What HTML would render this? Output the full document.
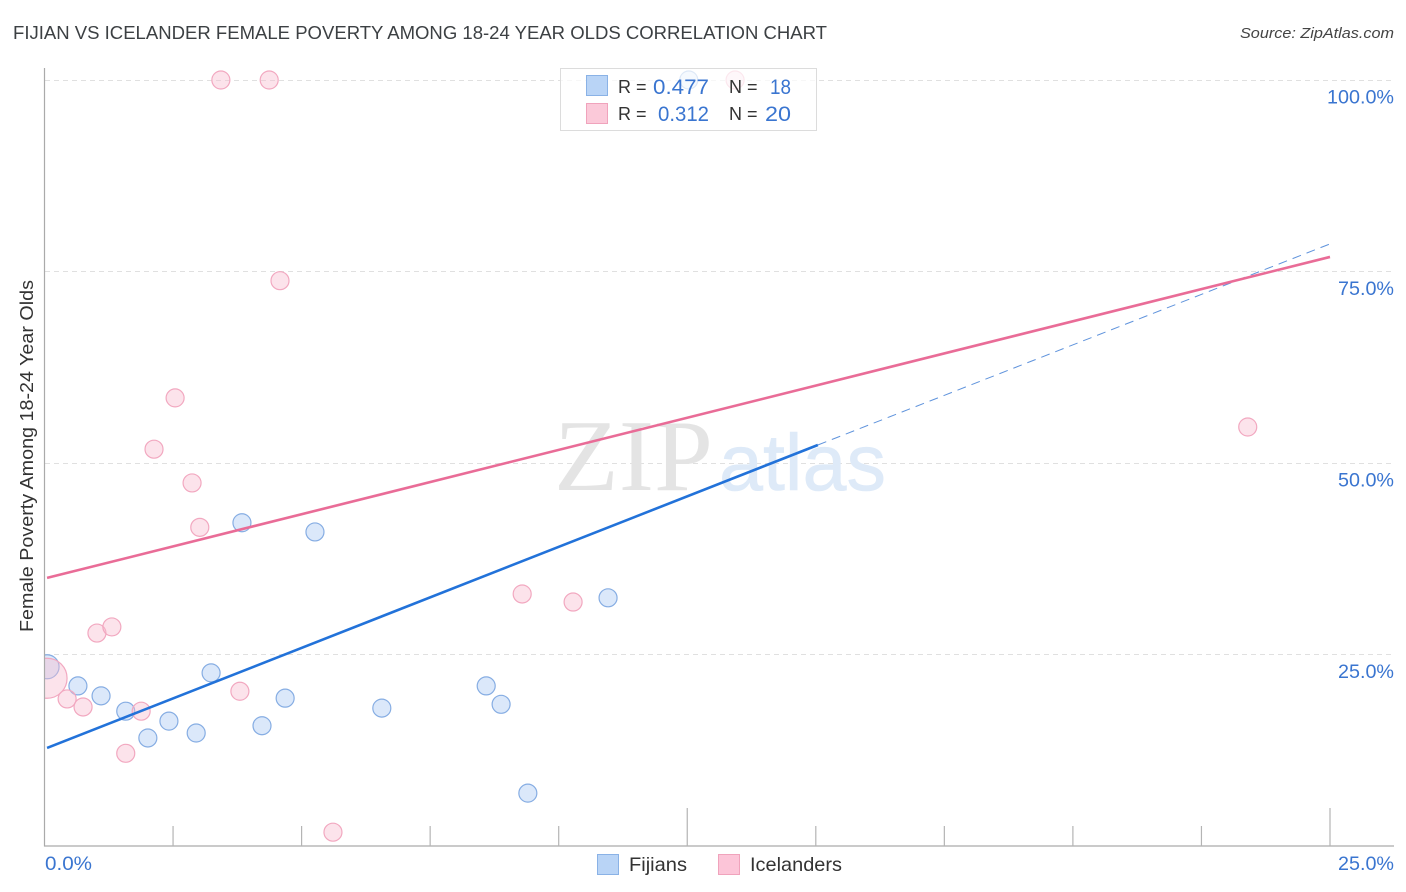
<!DOCTYPE html>
<html lang="en">
<head>
<meta charset="utf-8">
<title>Fijian vs Icelander Female Poverty Correlation Chart</title>
<style>
html,body{margin:0;padding:0;background:#fff;width:1406px;height:892px;overflow:hidden}
svg{display:block}
text{font-family:"Liberation Sans",sans-serif}
</style>
</head>
<body>
<svg id="chart" xmlns="http://www.w3.org/2000/svg" width="1406" height="892" viewBox="0 0 1406 892">
  <defs><clipPath id="plot-clip"><rect x="44.5" y="60" width="1350" height="786"/></clipPath></defs>
  <text x="13" y="39" font-size="18.5" fill="#3c4043" textLength="814" lengthAdjust="spacingAndGlyphs">FIJIAN VS ICELANDER FEMALE POVERTY AMONG 18-24 YEAR OLDS CORRELATION CHART</text>
  <text x="1394" y="38" font-size="15" font-style="italic" fill="#444" text-anchor="end" textLength="154" lengthAdjust="spacingAndGlyphs">Source: ZipAtlas.com</text>
  <g id="grid"></g>
  <g>
    <text x="554" y="490" font-size="102" fill="#e4e4e4" textLength="159" lengthAdjust="spacingAndGlyphs" style="font-family:'Liberation Serif',serif">ZIP</text>
    <text x="719" y="490" font-size="80" fill="#deeaf8" stroke="#deeaf8" stroke-width="0.6" textLength="167" lengthAdjust="spacingAndGlyphs">atlas</text>
  </g>
  <g id="points" clip-path="url(#plot-clip)"></g>
  <g id="trends"></g>
  <g id="axes"></g>
  <text transform="translate(33,632) rotate(-90)" font-size="18" fill="#333" textLength="352" lengthAdjust="spacingAndGlyphs">Female Poverty Among 18-24 Year Olds</text>

  <g>
    <rect x="560.5" y="68.5" width="256" height="62" fill="#fff" fill-opacity="0.72" stroke="#dcdcdc"/>
    <rect x="586.5" y="75.5" width="21" height="20" fill="#b9d4f6" stroke="#8ab2e6"/>
    <rect x="586.5" y="103.5" width="21" height="20" fill="#fbc9d9" stroke="#f0a3bc"/>
    <text x="618" y="93" font-size="18" fill="#333">R =</text>
    <text x="709" y="94" font-size="21" fill="#3a75d0" text-anchor="end" textLength="56" lengthAdjust="spacingAndGlyphs">0.477</text>
    <text x="729" y="93" font-size="18" fill="#333">N =</text>
    <text x="791" y="94" font-size="21" fill="#3a75d0" text-anchor="end" textLength="21" lengthAdjust="spacingAndGlyphs">18</text>
    <text x="618" y="120" font-size="18" fill="#333">R =</text>
    <text x="709" y="121" font-size="21" fill="#3a75d0" text-anchor="end" textLength="51" lengthAdjust="spacingAndGlyphs">0.312</text>
    <text x="729" y="120" font-size="18" fill="#333">N =</text>
    <text x="791" y="121" font-size="21" fill="#3a75d0" text-anchor="end" textLength="26" lengthAdjust="spacingAndGlyphs">20</text>
  </g>

  <g>
    <rect x="597.5" y="854.5" width="21" height="20" fill="#b9d4f6" stroke="#8ab2e6"/>
    <text x="629" y="871" font-size="19.5" fill="#333" textLength="58" lengthAdjust="spacingAndGlyphs">Fijians</text>
    <rect x="718.5" y="854.5" width="21" height="20" fill="#fcc5d8" stroke="#f0a3bc"/>
    <text x="750" y="871" font-size="19.5" fill="#333" textLength="92" lengthAdjust="spacingAndGlyphs">Icelanders</text>
  </g>
</svg>
<script>
const yTicks = [25, 50, 75, 100];
const yTickLabels = ['25.0%', '50.0%', '75.0%', '100.0%'];
const xTicks = [0, 2.5, 5, 7.5, 10, 12.5, 15, 17.5, 20, 22.5, 25];
const xEndLabels = ['0.0%', '25.0%'];
const fijianX = [0.05,0.65,1.10,1.58,2.01,2.42,2.95,3.24,3.84,4.23,4.68,5.26,6.56,8.59,8.88,9.40,10.96,12.53];
const fijianY = [23.4,20.9,19.6,17.6,14.1,16.3,14.75,22.6,42.2,15.7,19.3,41.0,18.0,20.9,18.5,6.9,32.4,100];
const fijianSize = [12,9,9,9,9,9,9,9,9,9,9,9,9,9,9,9,9,9];
const icelanderX = [0.05,0.44,0.75,1.02,1.31,1.58,1.88,2.13,2.54,2.87,3.02,3.43,3.80,4.37,4.58,5.61,9.29,10.28,13.43,23.40];
const icelanderY = [21.9,19.2,18.15,27.8,28.6,12.1,17.6,51.8,58.5,47.4,41.6,100,20.2,100,73.8,1.8,32.9,31.85,100,54.7];
const icelanderSize = [20,9,9,9,9,9,9,9,9,9,9,9,9,9,9,9,9,9,9,9];
const fijianTrendX = [0.05, 15.04];
const fijianTrendY = [12.8, 52.35];
const fijianExtendX = [15.04, 25];
const fijianExtendY = [52.35, 78.6];
const icelanderTrendX = [0.05, 25];
const icelanderTrendY = [35.0, 76.9];

const NS = 'http://www.w3.org/2000/svg';
const sx = v => 44.5 + v * (1330 - 44.5) / 25;
const sy = v => 846 - v * (846 - 80) / 100;
function make(tag, attrs, parent, text) {
  const el = document.createElementNS(NS, tag);
  Object.keys(attrs).forEach(k => el.setAttribute(k, attrs[k]));
  if (text !== undefined) el.textContent = text;
  parent.appendChild(el);
  return el;
}
const grid = document.getElementById('grid');
const axes = document.getElementById('axes');
const pts = document.getElementById('points');
const trends = document.getElementById('trends');

yTicks.forEach((t, i) => {
  const gy = Math.floor(sy(t)) + 0.5;
  const line = make('line', {x1: 45, x2: 1394, y1: gy, y2: gy, stroke: '#e0e0e0', 'stroke-dasharray': '5 4'}, grid);
  
  
  const label = make('text', {x: 1394, y: sy(t) + 23.5, 'font-size': 19.5, fill: '#3a75d0', 'text-anchor': 'end', textLength: yTickLabels[i].length > 5 ? 67 : 56, lengthAdjust: 'spacingAndGlyphs'}, axes, yTickLabels[i]);
  
  
});

const yAxis = make('line', {x1: 44.5, x2: 44.5, y1: 68, y2: 846.5, stroke: '#aaa', 'stroke-width': 1.2}, axes);


const xAxis = make('line', {x1: 44, x2: 1394, y1: 846, y2: 846, stroke: '#aaa', 'stroke-width': 1.2}, axes);



xTicks.forEach((t, i) => {
  if (i === 0) return;
  const long = i === 5 || i === 10;
  const tick = make('line', {x1: sx(t), x2: sx(t), y1: long ? 808 : 826, y2: 846, stroke: '#b4b4b4', 'stroke-width': 1.2}, axes);
  
  
});

const xLabelStart = make('text', {x: 45, y: 870, 'font-size': 19.5, fill: '#3a75d0', textLength: 47, lengthAdjust: 'spacingAndGlyphs'}, axes, xEndLabels[0]);


const xLabelEnd = make('text', {x: 1394, y: 870, 'font-size': 19.5, fill: '#3a75d0', 'text-anchor': 'end', textLength: 56, lengthAdjust: 'spacingAndGlyphs'}, axes, xEndLabels[1]);



fijianX.forEach((x, i) => {
  const c = make('circle', {cx: sx(x), cy: sy(fijianY[i]), r: fijianSize[i], fill: '#a9c9f2', 'fill-opacity': 0.42, stroke: '#86ade3', 'stroke-width': 1.2}, pts);
  
  
});
icelanderX.forEach((x, i) => {
  const c = make('circle', {cx: sx(x), cy: sy(icelanderY[i]), r: icelanderSize[i], fill: '#f9bdd0', 'fill-opacity': 0.42, stroke: '#f2a8c0', 'stroke-width': 1.2}, pts);
  
  
});

const extend = make('line', {x1: sx(fijianExtendX[0]), y1: sy(fijianExtendY[0]), x2: sx(fijianExtendX[1]), y2: sy(fijianExtendY[1]), stroke: '#5f93dc', 'stroke-width': 1, 'stroke-dasharray': '9 6'}, trends);


const blue = make('line', {x1: sx(fijianTrendX[0]), y1: sy(fijianTrendY[0]), x2: sx(fijianTrendX[1]), y2: sy(fijianTrendY[1]), stroke: '#2272d9', 'stroke-width': 2.6}, trends);


const pink = make('line', {x1: sx(icelanderTrendX[0]), y1: sy(icelanderTrendY[0]), x2: sx(icelanderTrendX[1]), y2: sy(icelanderTrendY[1]), stroke: '#e96c97', 'stroke-width': 2.6}, trends);


</script>
</body>
</html>
